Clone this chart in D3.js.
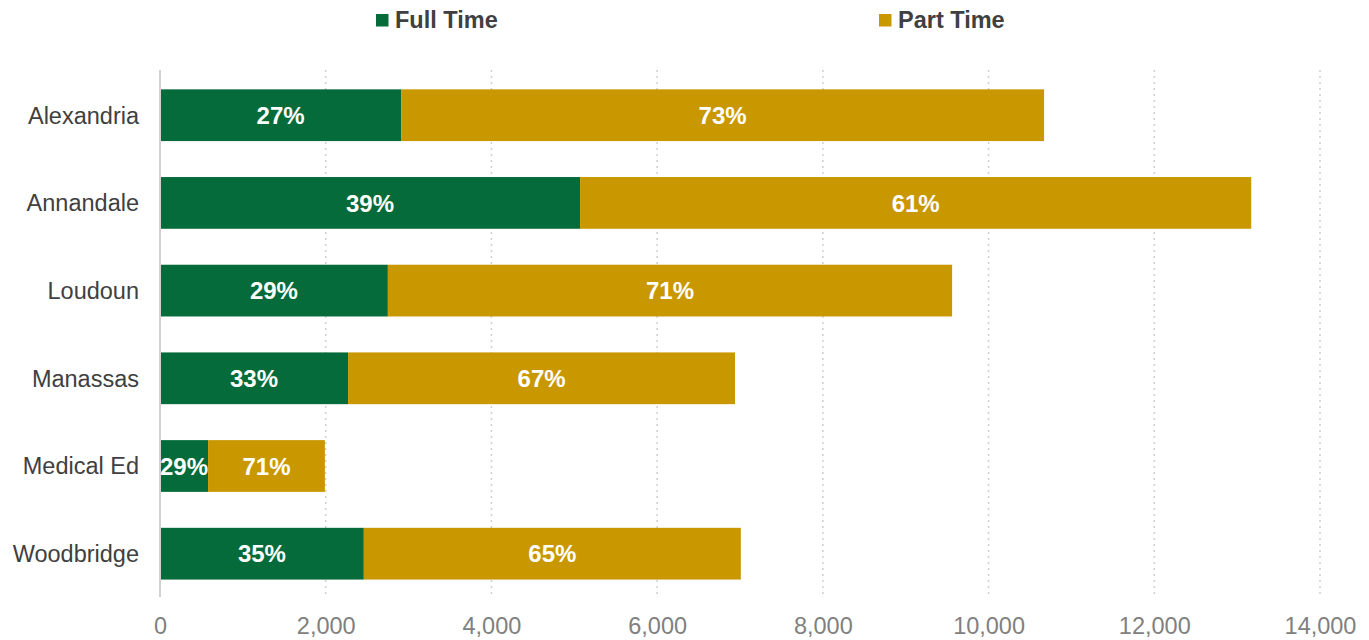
<!DOCTYPE html>
<html>
<head>
<meta charset="utf-8">
<script src="https://cdn.jsdelivr.net/npm/d3@7"></script>
<style>
  body { margin: 0; background: #fff; }
  svg { font-family: "Liberation Sans", Arial, sans-serif; }
</style>
</head>
<body>
<div id="chart"></div>
<script>
// campus enrollment
const campuses = ["Alexandria", "Annandale", "Loudoun", "Manassas", "Medical Ed", "Woodbridge"];
const fullTime = [2910, 5070, 2750, 2270, 580, 2460];
const partTime = [7760, 8100, 6810, 4670, 1410, 4550];
const fullPct = ["27%", "39%", "29%", "33%", "29%", "35%"];
const partPct = ["73%", "61%", "71%", "67%", "71%", "65%"];
const xTicks = [0, 2000, 4000, 6000, 8000, 10000, 12000, 14000];
const seriesNames = ["Full Time", "Part Time"];
const colors = ["#056b3a", "#c99700"];

const width = 1369, height = 640;
const margin = {top: 71.8, right: 49, bottom: 42.9, left: 160};

const svg = d3.select("#chart").append("svg")
    .attr("width", width)
    .attr("height", height);

const x = d3.scaleLinear().domain([0, 14000]).range([margin.left, width - margin.right]);
const y = d3.scaleBand().domain(campuses).range([margin.top, height - margin.bottom]).paddingInner(0.41).paddingOuter(0.2);

// dotted grid
svg.append("g")
    .selectAll("line")
    .data(xTicks.slice(1))
    .join("line")
    .attr("x1", d => x(d)).attr("x2", d => x(d))
    .attr("y1", 70).attr("y2", 594)
    .attr("stroke", "#cfcfcf")
    .attr("stroke-width", 1.5)
    .attr("stroke-dasharray", "2,4");

const rows = campuses.map((c, i) => ({
    campus: c,
    parts: [
        {x0: 0, x1: fullTime[i], label: fullPct[i], k: 0},
        {x0: fullTime[i], x1: fullTime[i] + partTime[i], label: partPct[i], k: 1}
    ]
}));

const row = svg.append("g").selectAll("g")
    .data(rows)
    .join("g");

row.selectAll("rect")
    .data(d => d.parts.map(p => Object.assign({campus: d.campus}, p)))
    .join("rect")
    .attr("x", d => x(d.x0))
    .attr("y", d => y(d.campus))
    .attr("width", d => x(d.x1) - x(d.x0))
    .attr("height", y.bandwidth())
    .attr("fill", d => colors[d.k]);

row.selectAll("text")
    .data(d => d.parts.map(p => Object.assign({campus: d.campus}, p)))
    .join("text")
    .attr("x", d => (x(d.x0) + x(d.x1)) / 2)
    .attr("y", d => y(d.campus) + y.bandwidth() / 2)
    .attr("dy", "0.36em")
    .attr("text-anchor", "middle")
    .attr("fill", "#fff")
    .attr("font-weight", "bold")
    .attr("font-size", 24)
    .text(d => d.label);

// zero line
svg.append("line")
    .attr("x1", x(0)).attr("x2", x(0))
    .attr("y1", 70).attr("y2", 597)
    .attr("stroke", "#d0d0d0")
    .attr("stroke-width", 2);

// category labels
svg.append("g")
    .selectAll("text")
    .data(campuses)
    .join("text")
    .attr("x", margin.left - 21)
    .attr("y", d => y(d) + y.bandwidth() / 2)
    .attr("dy", "0.36em")
    .attr("text-anchor", "end")
    .attr("fill", "#404040")
    .attr("font-size", 23.5)
    .text(d => d);

// x axis
const xAxis = svg.append("g")
    .attr("transform", `translate(0,631)`)
    .call(d3.axisBottom(x).tickValues(xTicks).tickFormat(d3.format(",")).tickSize(0));
xAxis.select(".domain").remove();
xAxis.selectAll("text")
    .attr("font-size", 23.5)
    .attr("fill", "#808080")
    .attr("font-family", "Liberation Sans, Arial, sans-serif")
    .attr("dy", "0");

// legend
const legendX = [376, 879];
const legend = svg.append("g")
    .selectAll("g")
    .data(seriesNames)
    .join("g")
    .attr("transform", (d, i) => `translate(${legendX[i]},14)`);
legend.append("rect")
    .attr("width", 12.5).attr("height", 12.5)
    .attr("fill", (d, i) => colors[i]);
legend.append("text")
    .attr("x", 19).attr("y", 14)
    .attr("fill", "#404040")
    .attr("font-weight", "bold")
    .attr("font-size", 23.5)
    .text(d => d);
</script>
</body>
</html>
